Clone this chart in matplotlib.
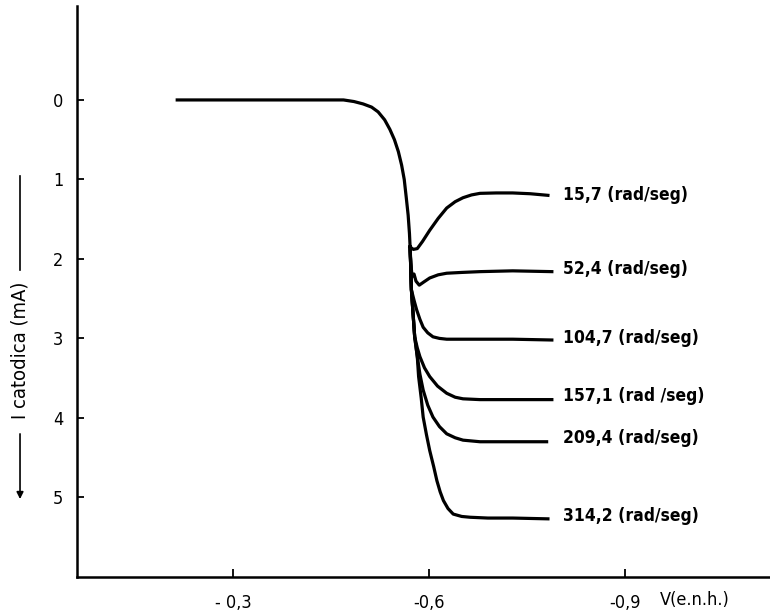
import os
import matplotlib
matplotlib.use('Agg')
import matplotlib.pyplot as plt
from matplotlib import font_manager

plt.rcParams['font.family'] = ['DejaVu Sans']

# common trunk of the polarisation curves, V (e.n.h.) vs I catodica (mA)
trunk_v = [-0.212, -0.30, -0.40, -0.469, -0.485, -0.499, -0.512, -0.522, -0.532,
           -0.540, -0.547, -0.553, -0.558, -0.562, -0.565, -0.568, -0.570, -0.571]
trunk_i = [0.0, 0.0, 0.0, 0.0, 0.02, 0.05, 0.09, 0.15, 0.25,
           0.37, 0.50, 0.65, 0.82, 1.00, 1.22, 1.45, 1.68, 1.85]

# branches leaving the trunk, one per rotation speed
speeds = ['15,7 (rad/seg)', '52,4 (rad/seg)', '104,7 (rad/seg)',
          '157,1 (rad /seg)', '209,4 (rad/seg)', '314,2 (rad/seg)']

v_157 = [-0.571, -0.576, -0.582, -0.590, -0.601, -0.614, -0.627, -0.640, -0.652,
         -0.665, -0.678, -0.703, -0.728, -0.755, -0.782]
i_157 = [1.85, 1.88, 1.87, 1.78, 1.64, 1.49, 1.36, 1.28, 1.23,
         1.195, 1.175, 1.17, 1.17, 1.18, 1.20]

v_524 = [-0.571, -0.572, -0.574, -0.577, -0.580, -0.585, -0.592, -0.601, -0.614,
         -0.627, -0.650, -0.678, -0.728, -0.788]
i_524 = [1.85, 2.05, 2.22, 2.19, 2.28, 2.33, 2.29, 2.24, 2.20,
         2.18, 2.17, 2.16, 2.15, 2.16]

v_1047 = [-0.571, -0.572, -0.573, -0.577, -0.581, -0.586, -0.591, -0.598, -0.606,
          -0.616, -0.627, -0.650, -0.678, -0.728, -0.788]
i_1047 = [1.85, 2.10, 2.39, 2.52, 2.64, 2.76, 2.86, 2.93, 2.98,
          3.00, 3.01, 3.01, 3.01, 3.01, 3.02]

v_1571 = [-0.571, -0.573, -0.576, -0.578, -0.582, -0.586, -0.593, -0.601, -0.613,
          -0.627, -0.640, -0.652, -0.678, -0.703, -0.750, -0.788]
i_1571 = [1.85, 2.39, 2.75, 2.98, 3.12, 3.23, 3.37, 3.48, 3.60,
          3.69, 3.74, 3.76, 3.77, 3.77, 3.77, 3.77]

v_2094 = [-0.571, -0.573, -0.578, -0.582, -0.586, -0.591, -0.598, -0.606, -0.616,
          -0.627, -0.640, -0.652, -0.678, -0.703, -0.740, -0.780]
i_2094 = [1.85, 2.39, 2.98, 3.23, 3.45, 3.65, 3.84, 3.99, 4.11,
          4.20, 4.25, 4.28, 4.30, 4.30, 4.30, 4.30]

v_3142 = [-0.571, -0.573, -0.578, -0.582, -0.584, -0.588, -0.591, -0.596, -0.601,
          -0.607, -0.612, -0.617, -0.622, -0.629, -0.637, -0.650, -0.663, -0.690,
          -0.728, -0.782]
i_3142 = [1.85, 2.39, 2.98, 3.23, 3.48, 3.75, 3.99, 4.21, 4.41,
          4.61, 4.79, 4.93, 5.04, 5.14, 5.21, 5.24, 5.25, 5.26,
          5.26, 5.27]

branches = [(v_157, i_157), (v_524, i_524), (v_1047, i_1047),
            (v_1571, i_1571), (v_2094, i_2094), (v_3142, i_3142)]
label_i = [1.19, 2.13, 2.99, 3.73, 4.25, 5.24]

x_ticks = [-0.3, -0.6, -0.9]
x_ticklabels = ['- 0,3', '-0,6', '-0,9']
y_ticks = [0, 1, 2, 3, 4, 5]


# a narrow face looks closest to the lettering of the scan
def pick_font(names, size):
    found = {os.path.basename(f.fname).lower(): f.fname
             for f in font_manager.fontManager.ttflist}
    for n in names:
        if n in found:
            return font_manager.FontProperties(fname=found[n], size=size)
    return font_manager.FontProperties(family='DejaVu Sans', size=size)


fp_bold = pick_font(['dejavusanscondensed-bold.ttf', 'dejavusanscondensed.ttf'], 12.5)
fp_reg = pick_font(['dejavusanscondensed.ttf'], 13)
fp_ylab = pick_font(['dejavusanscondensed.ttf'], 14.5)

fig = plt.figure(figsize=(7.7, 6.15), dpi=100)
ax = fig.add_axes([0.100, 0.062, 0.900, 0.928])

ax.plot(trunk_v, trunk_i, color='black', lw=2.3, solid_capstyle='butt')
for (v, i), name, yl in zip(branches, speeds, label_i):
    ax.plot(v, i, color='black', lw=2.3, solid_joinstyle='round')
    ax.text(-0.805, yl, name, fontproperties=fp_bold, va='center', ha='left')

ax.set_xlim(-0.061, -1.122)
ax.set_ylim(6.0, -1.18)

for side in ['top', 'right']:
    ax.spines[side].set_visible(False)
for side in ['left', 'bottom']:
    ax.spines[side].set_linewidth(1.8)

ax.set_xticks(x_ticks)
ax.set_xticklabels(x_ticklabels)
ax.set_yticks(y_ticks)
ax.set_yticklabels([str(t) for t in y_ticks])
for lbl in ax.get_xticklabels() + ax.get_yticklabels():
    lbl.set_fontproperties(fp_reg)
ax.tick_params(axis='x', direction='in', length=6, width=1.3, pad=12)
ax.tick_params(axis='y', direction='in', length=5, width=1.3, pad=10)

ax.annotate('V(e.n.h.)', xy=(-0.953, 0), xycoords=('data', 'axes fraction'),
            xytext=(0, -23), textcoords='offset pixels', fontproperties=fp_reg,
            ha='left', va='center')

# y axis label with the lines and the downward arrow
fig.text(0.026, 0.431, 'I catodica (mA)', rotation=90, fontproperties=fp_ylab,
         ha='center', va='center')
fig.add_artist(plt.Line2D([0.026, 0.026], [0.714, 0.561], color='black', lw=1.2))
ax.annotate('', xy=(0.026, 0.184), xycoords='figure fraction',
            xytext=(0.026, 0.299), textcoords='figure fraction',
            arrowprops=dict(arrowstyle='-|>', color='black', lw=1.2,
                            mutation_scale=10))

fig.savefig('out.png', dpi=100)
